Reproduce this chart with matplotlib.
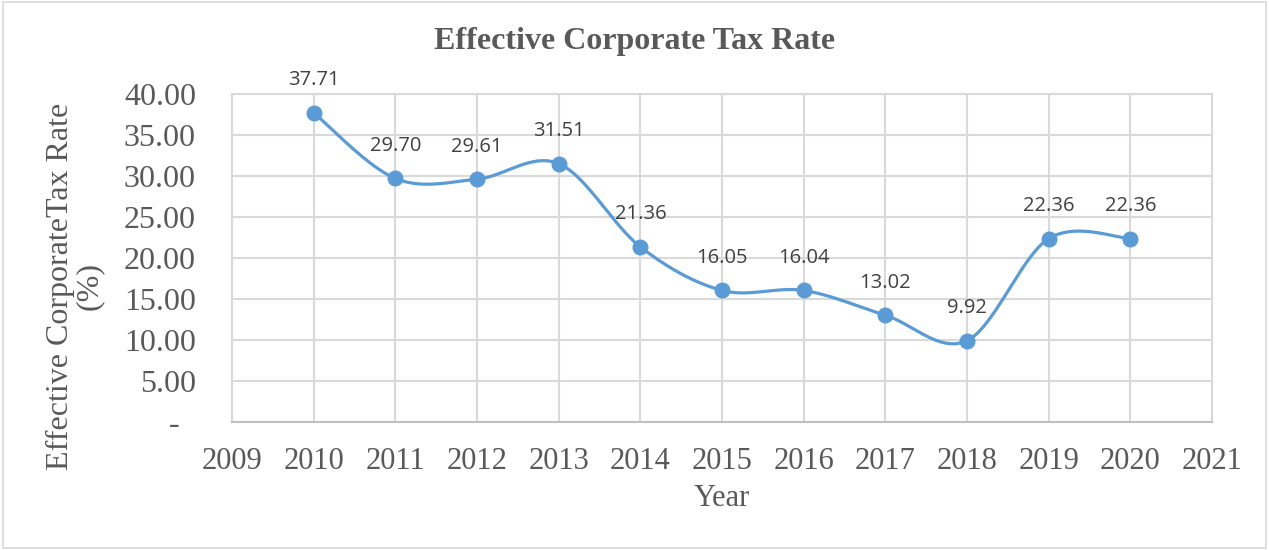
import numpy as np
import matplotlib
matplotlib.use("Agg")
import matplotlib.pyplot as plt
from matplotlib.patches import Rectangle

years = [2010, 2011, 2012, 2013, 2014, 2015, 2016, 2017, 2018, 2019, 2020]
tax_rate = [37.71, 29.70, 29.61, 31.51, 21.36, 16.05, 16.04, 13.02, 9.92, 22.36, 22.36]
y_ticks = [0, 5, 10, 15, 20, 25, 30, 35, 40]
y_tick_labels = ["-  ", "5.00", "10.00", "15.00", "20.00", "25.00", "30.00", "35.00", "40.00"]
x_ticks = list(range(2009, 2022))

line_color = "#5B9BD5"
text_gray = "#595959"
grid_gray = "#D9D9D9"


def smooth_curve(x, y, steps=40):
    # Catmull-Rom style bezier through every point, like a spreadsheet "smoothed line"
    pts = np.column_stack([x, y]).astype(float)
    ext = np.vstack([pts[0], pts, pts[-1]])
    out = []
    t = np.linspace(0, 1, steps)[:, None]
    for i in range(1, len(ext) - 2):
        p0, p1, p2, p3 = ext[i - 1], ext[i], ext[i + 1], ext[i + 2]
        c1 = p1 + (p2 - p0) / 6.0
        c2 = p2 - (p3 - p1) / 6.0
        seg = ((1 - t) ** 3) * p1 + 3 * ((1 - t) ** 2) * t * c1 + 3 * (1 - t) * t ** 2 * c2 + t ** 3 * p2
        out.append(seg if i == 1 else seg[1:])
    out = np.vstack(out)
    return out[:, 0], out[:, 1]


fig = plt.figure(figsize=(12.69, 5.5), dpi=100)
ax = fig.add_axes([232 / 1269, 1 - 422 / 550, (1212 - 232) / 1269, (422 - 94) / 550])

# light frame around the whole chart
fig.patches.append(Rectangle((0.002, 0.004), 0.996, 0.992, transform=fig.transFigure,
                             fill=False, edgecolor="#D9D9D9", linewidth=1.2))

sx, sy = smooth_curve(years, tax_rate)
ax.plot(sx, sy, color=line_color, linewidth=2.3, solid_capstyle="round", zorder=3)
ax.plot(years, tax_rate, linestyle="none", marker="o", markersize=10.5,
        color=line_color, zorder=4)

for x, v in zip(years, tax_rate):
    ax.annotate(f"{v:.2f}", (x, v), xytext=(0, 23.5), textcoords="offset points",
                ha="center", va="center", fontsize=14.5, family="Open Sans",
                color="#404040", zorder=5)

ax.set_xlim(2009, 2021)
ax.set_ylim(0, 40)
ax.set_xticks(x_ticks)
ax.set_xticklabels([str(x) for x in x_ticks])
ax.set_yticks(y_ticks)
ax.set_yticklabels(y_tick_labels)
ax.tick_params(axis="both", length=0, labelcolor=text_gray)
ax.tick_params(axis="x", pad=18, labelsize=22)
ax.tick_params(axis="y", pad=26, labelsize=23)
for lab in ax.get_xticklabels() + ax.get_yticklabels():
    lab.set_family("Liberation Serif")

ax.grid(True, color=grid_gray, linewidth=1.5)
ax.set_axisbelow(True)
for side in ["top", "right", "left"]:
    ax.spines[side].set_color(grid_gray)
    ax.spines[side].set_linewidth(1.5)
ax.spines["bottom"].set_color("#BFBFBF")
ax.spines["bottom"].set_linewidth(1.5)

fig.text(0.5, 1 - 42 / 550, "Effective Corporate Tax Rate", ha="center", va="center",
         fontsize=23, fontweight="bold", family="Liberation Serif", color=text_gray)
fig.text(722 / 1269, 1 - 499 / 550, "Year", ha="center", va="center",
         fontsize=22, family="Liberation Serif", color=text_gray)
fig.text(75 / 1269, 1 - 286 / 550, "Effective CorporateTax Rate\n(%)", ha="center", va="center",
         rotation=90, fontsize=23, family="Liberation Serif", color=text_gray,
         multialignment="center", linespacing=1.0)

fig.savefig("out.png", dpi=100)
